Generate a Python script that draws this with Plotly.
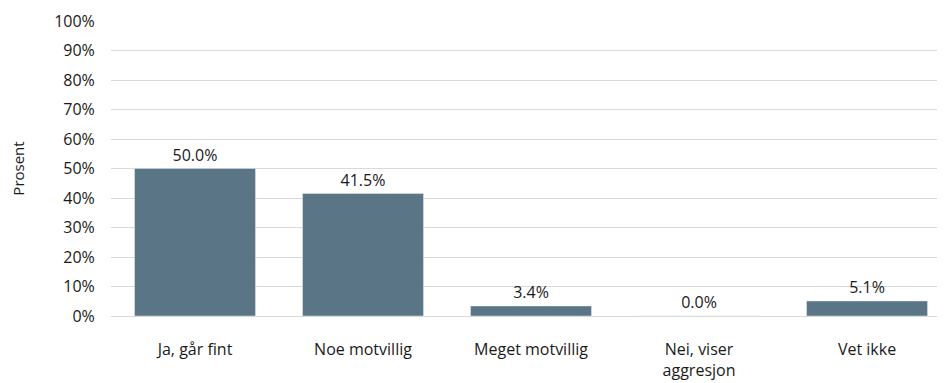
import plotly.graph_objects as go

categories = ["Ja, går fint", "Noe motvillig", "Meget motvillig", "Nei, viser<br>aggresjon", "Vet ikke"]
values = [50.0, 41.5, 3.4, 0.0, 5.1]
tick_vals = list(range(0, 101, 10))
tick_text = [f"{v}%" for v in tick_vals]

FONT = "'Open Sans', Lato, sans-serif"

fig = go.Figure(go.Bar(
    x=list(range(len(categories))),
    y=values,
    marker_color="#5a7585",
    text=[f"{v:.1f}%" for v in values],
    textposition="outside",
    textfont=dict(size=16, color="#1a1a1a", family=FONT),
    cliponaxis=False,
))

fig.update_layout(
    width=937, height=375,
    margin=dict(l=103, r=0, t=13, b=67),
    paper_bgcolor="white", plot_bgcolor="white",
    bargap=0.28,
    showlegend=False,
    font=dict(family=FONT, size=16, color="#1a1a1a"),
)
fig.update_xaxes(
    range=[-0.5, 4.464],
    tickmode="array",
    tickvals=list(range(len(categories))),
    ticktext=categories,
    showgrid=False, zeroline=False, showline=False,
    ticks="outside", ticklen=19, tickcolor="rgba(0,0,0,0)",
    tickfont=dict(size=16, family=FONT),
)
fig.update_yaxes(
    range=[0, 100],
    tickmode="array", tickvals=tick_vals, ticktext=tick_text,
    showgrid=True, gridcolor="#d9d9d9", gridwidth=1,
    zeroline=True, zerolinecolor="#d9d9d9", zerolinewidth=1,
    showline=False,
    ticks="outside", ticklen=12, tickcolor="rgba(0,0,0,0)",
    tickfont=dict(size=16, family=FONT),
    title=dict(text="Prosent", font=dict(size=15, family=FONT), standoff=27),
)

fig.write_html("out.html")
